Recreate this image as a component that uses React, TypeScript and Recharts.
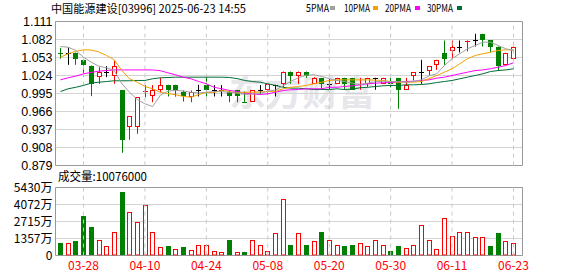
import React from 'react';
import { ComposedChart, Bar, Line, XAxis, YAxis, CartesianGrid, ReferenceLine, ReferenceArea } from 'recharts';

const dates = ['03-25','03-26','03-27','03-28','03-31','04-01','04-02','04-03','04-07','04-08','04-09','04-10','04-11','04-14','04-15','04-16','04-17','04-22','04-23','04-24','04-25','04-28','04-29','04-30','05-02','05-06','05-07','05-08','05-09','05-12','05-13','05-14','05-15','05-16','05-19','05-20','05-21','05-22','05-23','05-26','05-27','05-28','05-29','05-30','06-02','06-03','06-04','06-05','06-06','06-09','06-10','06-11','06-12','06-13','06-16','06-17','06-18','06-19','06-20','06-23'];

const openP = [1.0612,1.0606,1.061,1.0493,1.0401,1.0213,1.0304,1.0224,0.9999,0.9407,
  0.9407,0.999,0.9907,0.9999,1.009,1.009,0.9982,0.989,0.9999,1.009,
  0.9999,0.9999,0.9982,0.9999,0.9825,0.982,0.9999,0.9999,1.009,1.0106,
  1.0304,1.0224,1.0304,1.0106,1.0203,1.0106,1.0106,1.0203,1.0203,1.0095,
  1.0106,1.0203,1.0106,1.0122,1.0203,1.001,1.0224,1.0293,1.031,1.0412,
  1.061,1.0627,1.0707,1.0795,1.0804,1.0912,1.0804,1.0707,1.0412,1.051];
const highP = [1.0686,1.0696,1.061,1.0493,1.0401,1.0374,1.039,1.0482,0.9999,0.9585,
  0.989,1.009,1.0085,1.0203,1.009,1.009,0.9999,0.9999,1.009,1.0213,
  1.0085,1.0085,0.9999,0.9999,0.9982,0.9999,1.0085,1.0106,1.009,1.0304,
  1.0304,1.0304,1.0304,1.0213,1.0203,1.018,1.0203,1.0203,1.0203,1.0203,
  1.0203,1.0203,1.0203,1.0203,1.0203,1.0203,1.0293,1.0493,1.039,1.0493,
  1.0804,1.0804,1.0804,1.0804,1.0912,1.0912,1.0804,1.0707,1.0606,1.0707];
const lowP = [1.051,1.0412,1.0412,1.0283,0.9907,1.0106,1.0213,1.0106,0.8995,0.9204,
  0.9301,0.989,0.981,0.997,0.9902,0.9899,0.982,0.981,0.9902,0.9902,
  0.9902,0.9902,0.981,0.981,0.9815,0.982,0.9934,0.9934,0.9902,1.005,
  1.0106,1.0106,1.0203,1.0106,1.001,1.0026,1.0106,1.001,1.001,1.001,
  1.005,1.001,1.0106,1.005,0.9704,1.001,1.016,1.0106,1.024,1.033,
  1.0412,1.0503,1.061,1.0627,1.0707,1.0707,1.061,1.031,1.0412,1.051];
const closeP = [1.0606,1.0606,1.0503,1.0406,1.0095,1.0304,1.0304,1.039,0.9204,0.9585,
  0.989,0.9999,0.9999,1.009,0.9999,0.9999,0.9902,0.9982,0.9999,0.9999,
  0.9999,0.9999,0.9902,0.9902,0.9815,0.9999,0.9999,1.0106,1.009,1.0304,
  1.0224,1.0304,1.0224,1.0203,1.0106,1.0106,1.0203,1.0106,1.001,1.0106,
  1.0203,1.0203,1.0203,1.0106,1.001,1.008,1.0293,1.0293,1.039,1.0493,
  1.0503,1.0707,1.0707,1.0804,1.0804,1.0804,1.0707,1.0401,1.0606,1.0707];

const ma5 = [1.0707,1.0696,1.0643,1.0535,1.0454,1.039,1.0364,1.032,1.0106,0.997,
  0.9853,0.9784,0.974,0.992,0.999,1.0,0.999,0.997,0.996,0.997,
  0.998,0.998,0.997,0.996,0.9935,0.994,0.995,0.999,1.0005,1.0075,
  1.0145,1.0205,1.0245,1.0252,1.0225,1.019,1.016,1.0143,1.0116,1.0095,
  1.0116,1.014,1.0148,1.0143,1.0143,1.013,1.0143,1.017,1.0235,1.0267,
  1.0401,1.051,1.059,1.067,1.0723,1.0777,1.0777,1.0723,1.067,1.0643];
const ma10 = [1.0535,1.059,1.063,1.0654,1.065,1.062,1.0562,1.0493,1.032,1.0187,
  1.0132,1.0063,1.0026,0.997,0.995,0.993,0.9902,0.989,0.9934,0.9966,
  0.9966,0.9999,0.9982,0.996,0.997,0.997,0.9975,0.9982,0.9985,1.0026,
  1.005,1.0063,1.008,1.0106,1.0132,1.016,1.017,1.017,1.017,1.017,
  1.017,1.0165,1.016,1.0143,1.0132,1.0132,1.0132,1.0143,1.019,1.024,
  1.0293,1.0348,1.0428,1.051,1.0562,1.059,1.0616,1.0643,1.0654,1.0654];
const ma20 = [1.017,1.0203,1.023,1.0267,1.029,1.031,1.032,1.033,1.033,1.033,
  1.033,1.033,1.033,1.0318,1.0283,1.025,1.0213,1.0187,1.0143,1.0106,
  1.005,1.0026,0.9999,0.9982,0.9955,0.9945,0.9934,0.9945,0.997,0.9999,
  1.001,1.0014,1.0026,1.0026,1.0026,1.005,1.005,1.0063,1.0074,1.009,
  1.0106,1.0116,1.0122,1.0127,1.0132,1.0143,1.0148,1.016,1.017,1.0197,
  1.0213,1.024,1.0267,1.0293,1.032,1.033,1.0348,1.0374,1.0401,1.0445];
const ma30 = [0.9982,1.0026,1.005,1.008,1.0117,1.0132,1.0143,1.0155,1.0155,1.0155,
  1.016,1.016,1.0187,1.0203,1.0208,1.0213,1.0213,1.0213,1.0213,1.0213,
  1.0213,1.0213,1.0208,1.019,1.016,1.0143,1.0132,1.0106,1.008,1.005,
  1.0036,1.0036,1.0026,1.0014,1.0014,1.0014,1.0026,1.0014,1.002,1.0042,
  1.005,1.0063,1.0074,1.008,1.008,1.009,1.009,1.0095,1.0106,1.0127,
  1.0143,1.016,1.0187,1.0213,1.024,1.0267,1.0304,1.032,1.033,1.0348];

// volume in 万 (10k shares)
const volume = [1038,1038,1118,3194,2236,1251,772,1837,5110,3487,
  2688,4072,1916,692,772,532,639,452,878,878,
  399,240,1198,319,240,1251,878,399,1757,4525,
  878,1757,878,1118,1916,1251,878,798,878,1038,
  719,1251,878,399,798,612,878,2396,1251,532,
  3008,1570,1916,1916,1491,1491,798,1757,1118,1007.6];
const volUp = [0,1,0,0,0,1,1,1,0,1,
  1,1,1,1,0,1,0,1,1,1,
  1,1,0,1,0,1,1,1,1,1,
  0,1,0,1,0,1,1,0,0,1,
  1,1,1,0,0,1,1,1,1,1,
  1,1,1,1,1,1,0,0,1,1];

const priceTicks = [0.879, 0.908, 0.937, 0.966, 0.995, 1.024, 1.053, 1.082, 1.111];
const volTicks = [0, 1357, 2715, 4072, 5430];
const labelIdx = [3, 11, 19, 27, 35, 43, 51, 59];

const rows = dates.map((d, i) => ({
  i,
  date: d,
  open: openP[i],
  high: highP[i],
  low: lowP[i],
  close: closeP[i],
  range: [lowP[i], highP[i]],
  ma5: ma5[i],
  ma10: ma10[i],
  ma20: ma20[i],
  ma30: ma30[i],
  vol: volume[i],
  up: volUp[i] === 1,
}));

const X_DOMAIN: [number, number] = [-0.646, 60.17];
const RED = '#ff0000';
const GREEN = '#008000';
const GRID = '#d4d4d4';
const BORDER = '#999999';
const FONT_NUM = "'Liberation Sans', Arial, sans-serif";
const FONT_CJK = "'Noto Sans CJK SC', sans-serif";

function Candle(props: any) {
  const { x, y, width, height, payload } = props;
  if (x == null || y == null || !payload) return null;
  const { open, close, high, low } = payload;
  const span = high - low;
  const toY = (v: number) => (span > 0 ? y + ((high - v) / span) * height : y);
  const cx = Math.round(x + width / 2);
  const wx = cx + 0.5;
  const yo = toY(open);
  const yc = toY(close);
  const color = close > open ? RED : close < open ? GREEN : '#000000';
  const top = Math.min(yo, yc);
  const bot = Math.max(yo, yc);
  const els: any[] = [];
  els.push(<line key="w" x1={wx} x2={wx} y1={y} y2={y + Math.max(height, 0.5)} stroke={color} strokeWidth={1} />);
  if (bot - top < 1.2) {
    const yy = Math.round((top + bot) / 2) + 0.5;
    els.push(<line key="d" x1={cx - 2} x2={cx + 3} y1={yy} y2={yy} stroke={color} strokeWidth={1} />);
  } else if (close > open) {
    const t = Math.round(top);
    const b = Math.round(bot);
    els.push(<rect key="b" x={cx - 1.5} y={t + 0.5} width={4} height={b - t - 1} fill="#ffffff" stroke={RED} strokeWidth={1} />);
  } else {
    const t = Math.round(top);
    const b = Math.round(bot);
    els.push(<rect key="b" x={cx - 2} y={t} width={5} height={b - t} fill={GREEN} />);
  }
  return <g>{els}</g>;
}

function VolBar(props: any) {
  const { x, y, width, height, payload } = props;
  if (x == null || y == null || !payload) return null;
  const cx = Math.round(x + width / 2);
  const t = Math.round(y);
  const b = Math.floor(y + height);
  if (payload.up) {
    return <rect x={cx - 1.5} y={t + 0.5} width={4} height={Math.max(b - t - 0.5, 0.5)} fill="#ffffff" stroke={RED} strokeWidth={1} />;
  }
  return <rect x={cx - 2} y={t} width={5} height={Math.max(b - t, 1)} fill={GREEN} />;
}

export default function App() {
  return (
    <div style={{ position: 'absolute', left: 0, top: 0, width: 578, height: 276, background: '#ffffff', overflow: 'hidden' }}>
      <svg width={578} height={276} style={{ position: 'absolute', left: 0, top: 0 }}>
        <text x={229} y={106} fontSize={35} fontWeight="bold" fill="#e6e6eb" fontFamily={FONT_CJK} textLength={146} lengthAdjust="spacingAndGlyphs">东方财富</text>
      </svg>
      <div style={{ position: 'absolute', left: 0, top: 0 }}>
        <ComposedChart width={578} height={178} data={rows} margin={{ top: 21.5, right: 55.5, bottom: 12.5, left: 0.5 }}>
          <CartesianGrid vertical={false} stroke={GRID} />
          <XAxis dataKey="i" type="number" domain={X_DOMAIN} allowDataOverflow ticks={labelIdx} hide />
          <YAxis
            type="number"
            domain={[0.879, 1.111]}
            allowDataOverflow
            ticks={priceTicks}
            interval={0}
            width={55}
            tickLine={false}
            axisLine={false}
            tickSize={0}
            tickMargin={3}
            tickFormatter={(v: number) => v.toFixed(3)}
            tick={{ fontSize: 12.5, fill: '#000000', fontFamily: FONT_NUM }}
          />
          {labelIdx.map((t) => (
            <ReferenceLine key={t} x={t} stroke="#c8c8c8" strokeDasharray="4 4" />
          ))}
          <ReferenceArea x1={X_DOMAIN[0]} x2={X_DOMAIN[1]} y1={0.879} y2={1.111} fill="none" fillOpacity={0} stroke={BORDER} strokeWidth={1} />
          <Line type="linear" dataKey="ma30" stroke="#006e36" strokeWidth={1} dot={false} isAnimationActive={false} />
          <Line type="linear" dataKey="ma20" stroke="#ff00ff" strokeWidth={1} dot={false} isAnimationActive={false} />
          <Line type="linear" dataKey="ma10" stroke="#f5a100" strokeWidth={1} dot={false} isAnimationActive={false} />
          <Line type="linear" dataKey="ma5" stroke="#a0a0a0" strokeWidth={1} dot={false} isAnimationActive={false} />
          <Bar dataKey="range" barSize={5} shape={Candle} isAnimationActive={false} />
        </ComposedChart>
      </div>
      <div style={{ position: 'absolute', left: 0, top: 170 }}>
        <ComposedChart width={578} height={106} data={rows} margin={{ top: 17.5, right: 55.5, bottom: 0, left: 0.5 }}>
          <CartesianGrid vertical={false} stroke={GRID} />
          <XAxis
            dataKey="i"
            type="number"
            domain={X_DOMAIN}
            allowDataOverflow
            ticks={labelIdx}
            interval={0}
            height={20.5}
            tickLine={false}
            axisLine={false}
            tickSize={0}
            tickMargin={6}
            tickFormatter={(v: number) => dates[v] ?? ''}
            tick={{ fontSize: 12, fill: RED, fontFamily: FONT_CJK }}
          />
          <YAxis
            type="number"
            domain={[0, 5430]}
            allowDataOverflow
            ticks={volTicks}
            interval={0}
            width={55}
            tickLine={false}
            axisLine={false}
            tickSize={0}
            tickMargin={3}
            tickFormatter={(v: number) => (v === 0 ? '0' : `${v}万`)}
            tick={{ fontSize: 12, fill: '#000000', fontFamily: FONT_CJK }}
          />
          {labelIdx.map((t) => (
            <ReferenceLine key={t} x={t} stroke="#c8c8c8" strokeDasharray="4 4" />
          ))}
          <ReferenceArea x1={X_DOMAIN[0]} x2={X_DOMAIN[1]} y1={0} y2={5430} fill="none" fillOpacity={0} stroke={BORDER} strokeWidth={1} />
          <Bar dataKey="vol" barSize={5} shape={VolBar} isAnimationActive={false} />
        </ComposedChart>
      </div>
      <svg width={578} height={276} style={{ position: 'absolute', left: 0, top: 0, pointerEvents: 'none' }}>
        <text x={51} y={12.5} fontSize={11.5} fill="#000000" fontFamily={FONT_CJK} textLength={195} lengthAdjust="spacingAndGlyphs">中国能源建设[03996] 2025-06-23 14:55</text>
        <text x={306} y={12} fontSize={11} fill="#000000" fontFamily={FONT_CJK} textLength={23} lengthAdjust="spacingAndGlyphs">5PMA</text>
        <rect x={330} y={6} width={5} height={4} fill="#a0a0a0" />
        <text x={344} y={12} fontSize={11} fill="#000000" fontFamily={FONT_CJK} textLength={26} lengthAdjust="spacingAndGlyphs">10PMA</text>
        <rect x={373} y={6} width={5} height={4} fill="#f5a100" />
        <text x={385} y={12} fontSize={11} fill="#000000" fontFamily={FONT_CJK} textLength={26} lengthAdjust="spacingAndGlyphs">20PMA</text>
        <rect x={415} y={6} width={5} height={4} fill="#ff00ff" />
        <text x={427} y={12} fontSize={11} fill="#000000" fontFamily={FONT_CJK} textLength={26} lengthAdjust="spacingAndGlyphs">30PMA</text>
        <rect x={457} y={6} width={5} height={4} fill="#006e36" />
        <text x={58} y={181} fontSize={12} fill="#000000" fontFamily={FONT_CJK} textLength={89} lengthAdjust="spacingAndGlyphs">成交量:10076000</text>
      </svg>
    </div>
  );
}
